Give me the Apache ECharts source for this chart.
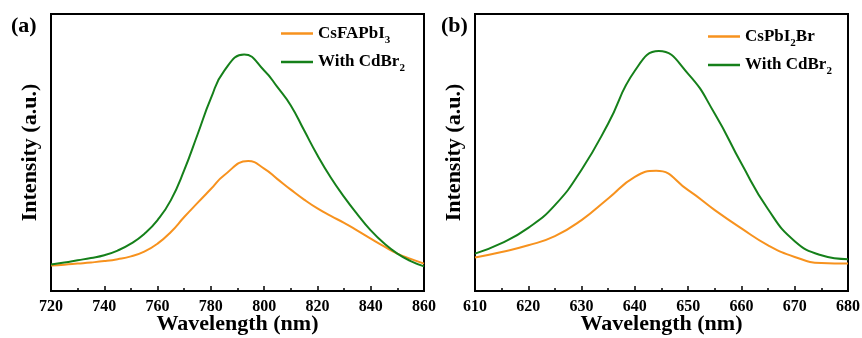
<!DOCTYPE html>
<html lang="en">
<head>
    <meta charset="UTF-8">
    <title>PL spectra</title>
    <style>
        html, body { margin: 0; padding: 0; background: #fff; }
        #chart { width: 862px; height: 338px; }
    </style>
    <script type="text/javascript" src="https://cdn.jsdelivr.net/npm/echarts@6/dist/echarts.min.js"></script>
</head>
<body>
<div id="chart"></div>

<script>
    // panel (a): CsFAPbI3 -- the peak point is read at its own wavelength
    var wlA = [720, 725, 730, 735, 740, 745, 750, 755, 760, 765, 770, 775, 780, 785, 792.5, 800, 805, 810, 815, 820, 825, 830, 835, 840, 845, 850, 855, 860];
    var cdA = [9.6, 10.3, 11.1, 11.9, 12.9, 14.6, 17.1, 20.6, 25.6, 32.8, 43.6, 56.5, 69.5, 79.5, 85.4, 79.6, 73.6, 67.0, 58.0, 49.0, 41.0, 34.0, 27.7, 21.9, 17.2, 13.5, 10.8, 8.9];
    var wlA2 = [720, 725, 730, 735, 740, 745, 750, 755, 760, 765, 770, 775, 780, 785, 794, 800, 805, 810, 815, 820, 825, 830, 835, 840, 845, 850, 855, 860];
    var pureA = [9.2, 9.5, 9.9, 10.3, 10.8, 11.5, 12.5, 14.2, 17.1, 21.3, 26.7, 31.8, 36.8, 41.8, 46.9, 44.2, 40.4, 36.6, 33.0, 29.8, 27.1, 24.6, 21.8, 18.9, 16.1, 13.5, 11.6, 9.9];
    var ticksA = {min: 720, max: 860, interval: 20};

    // panel (b): CsPbI2Br
    var wlB = [610, 615, 620, 625, 630, 635, 640, 644.5, 650, 655, 660, 665, 670, 675, 680];
    var cdB = [13.5, 17.3, 22.8, 31.0, 43.8, 60.5, 79.5, 86.6, 78.4, 64.0, 46.0, 29.5, 18.0, 12.9, 11.5];
    var wlB2 = [610, 615, 620, 625, 630, 635, 640, 644, 650, 655, 660, 665, 670, 675, 680];
    var pureB = [12.1, 14.1, 16.5, 19.8, 25.6, 33.4, 41.2, 43.4, 36.4, 29.2, 22.6, 16.5, 12.3, 10.1, 9.9];
    var ticksB = {min: 610, max: 680, interval: 10};

    var ORANGE = '#f7921e';
    var GREEN = '#15801a';
    var FONT = 'Liberation Serif';

    function pairs(xs, ys) {
        var out = [];
        for (var i = 0; i < xs.length; i++) out.push([xs[i], ys[i]]);
        return out;
    }

    function xAxisFor(idx, t) {
        return {
            type: 'value', gridIndex: idx,
            min: t.min, max: t.max, interval: t.interval,
            name: 'Wavelength (nm)', nameLocation: 'middle', nameGap: 22, nameMoveOverlap: false,
            nameTextStyle: {fontFamily: FONT, fontWeight: 'bold', fontSize: 22, color: '#000'},
            axisLine: {show: true, lineStyle: {color: '#000', width: 2}},
            axisTick: {show: true, inside: true, length: 5, lineStyle: {color: '#000', width: 1.5}},
            minorTick: {show: true, splitNumber: 2, length: 3, lineStyle: {color: '#000', width: 1.5}},
            axisLabel: {fontFamily: FONT, fontWeight: 'bold', fontSize: 16, color: '#000', margin: 8},
            splitLine: {show: false}
        };
    }

    function yAxisFor(idx) {
        return {
            type: 'value', gridIndex: idx, min: 0, max: 100,
            name: 'Intensity (a.u.)', nameLocation: 'middle', nameGap: 10,
            nameTextStyle: {fontFamily: FONT, fontWeight: 'bold', fontSize: 22, color: '#000'},
            axisLine: {show: false}, axisTick: {show: false},
            axisLabel: {show: false}, splitLine: {show: false}
        };
    }

    function lineSeries(name, idx, xs, ys, color) {
        return {
            name: name, type: 'line', xAxisIndex: idx, yAxisIndex: idx,
            data: pairs(xs, ys), smooth: 0.5, showSymbol: false, symbol: 'none',
            lineStyle: {color: color, width: 2}, itemStyle: {color: color},
            silent: true, animation: false
        };
    }

    var subText = {
        'CsFAPbI3': '{m|CsFAPbI}{s|3}',
        'CsPbI2Br': '{m|CsPbI}{s|2}{m|Br}',
        'With CdBr2': '{m|With CdBr}{s|2}'
    };

    function legendFor(left, top, names) {
        return {
            data: names, orient: 'vertical', left: left, top: top,
            icon: 'rect', itemWidth: 32, itemHeight: 2.5, itemGap: 8,
            selectedMode: false,
            formatter: function (n) { return subText[n]; },
            textStyle: {
                color: '#000',
                rich: {
                    m: {fontFamily: FONT, fontWeight: 'bold', fontSize: 17, color: '#000'},
                    s: {fontFamily: FONT, fontWeight: 'bold', fontSize: 11, color: '#000',
                        verticalAlign: 'bottom', padding: [13, 0, 0, 0]}
                }
            }
        };
    }

    var chart = echarts.init(document.getElementById('chart'));
    chart.setOption({
        animation: false,
        backgroundColor: '#fff',
        title: [
            {text: '(a)', left: 6, top: 10, textStyle: {fontFamily: FONT, fontWeight: 'bold', fontSize: 22, color: '#000'}},
            {text: '(b)', left: 436, top: 10, textStyle: {fontFamily: FONT, fontWeight: 'bold', fontSize: 22, color: '#000'}}
        ],
        grid: [
            {left: 51, right: 438, top: 14, bottom: 47, show: true, borderColor: '#000', borderWidth: 2, outerBoundsMode: 'none'},
            {left: 475, right: 14, top: 14, bottom: 47, show: true, borderColor: '#000', borderWidth: 2, outerBoundsMode: 'none'}
        ],
        legend: [
            legendFor(276, 20, ['CsFAPbI3', 'With CdBr2']),
            legendFor(703, 23, ['CsPbI2Br', 'With CdBr2'])
        ],
        xAxis: [xAxisFor(0, ticksA), xAxisFor(1, ticksB)],
        yAxis: [yAxisFor(0), yAxisFor(1)],
        series: [
            lineSeries('CsFAPbI3', 0, wlA2, pureA, ORANGE),
            lineSeries('With CdBr2', 0, wlA, cdA, GREEN),
            lineSeries('CsPbI2Br', 1, wlB2, pureB, ORANGE),
            lineSeries('With CdBr2', 1, wlB, cdB, GREEN)
        ]
    });
</script>
</body>
</html>
